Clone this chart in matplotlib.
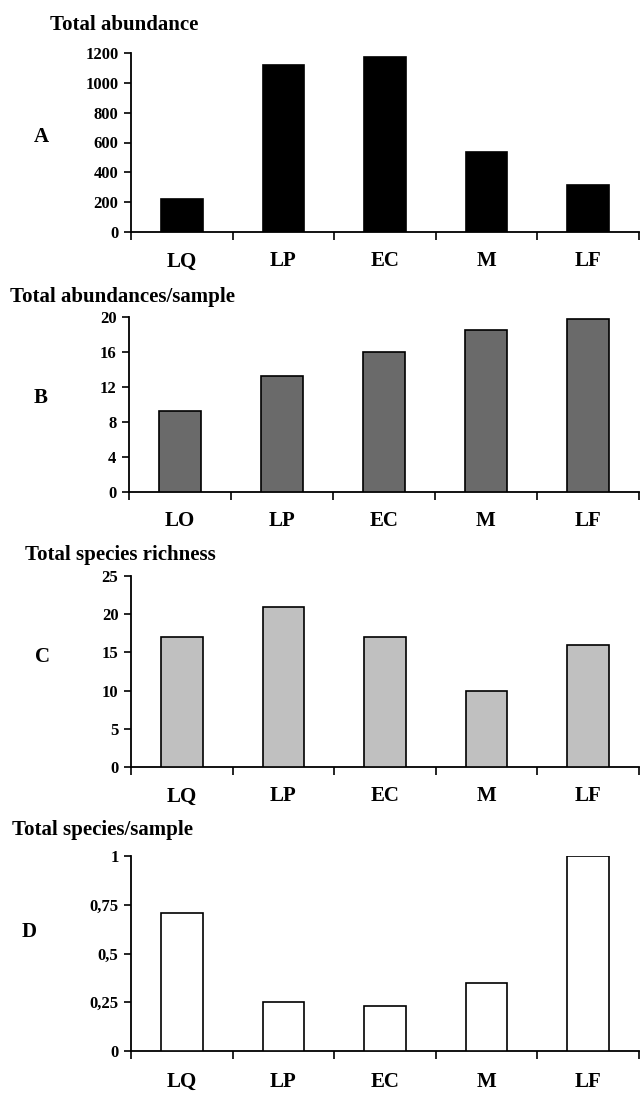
import matplotlib
matplotlib.use("Agg")
import matplotlib.pyplot as plt
import numpy as np

plt.rcParams['font.family'] = ['Liberation Serif', 'DejaVu Serif']
plt.rcParams['font.weight'] = 'bold'

cats_A = ["LQ", "LP", "EC", "M", "LF"]
cats_B = ["LO", "LP", "EC", "M", "LF"]
cats_C = ["LQ", "LP", "EC", "M", "LF"]
cats_D = ["LQ", "LP", "EC", "M", "LF"]

total_abundance = [224, 1119, 1171, 538, 316]
abundance_per_sample = [9.3, 13.2, 16.0, 18.5, 19.8]
species_richness = [17, 21, 17, 10, 16]
species_per_sample = [0.71, 0.25, 0.23, 0.35, 1.0]

yticks_A = [0, 200, 400, 600, 800, 1000, 1200]
yticks_B = [0, 4, 8, 12, 16, 20]
yticks_C = [0, 5, 10, 15, 20, 25]
yticks_D = [0, 0.25, 0.5, 0.75, 1]
ylabels_D = ["0", "0,25", "0,5", "0,75", "1"]

titles = ["Total abundance", "Total abundances/sample",
          "Total species richness", "Total species/sample"]
letters = ["A", "B", "C", "D"]

W, H = 640, 1093
fig = plt.figure(figsize=(W / 100, H / 100), dpi=100)

# pixel layout: (left, y_bottom, y_top)
panels = [
    (131, 232, 53, cats_A, total_abundance, yticks_A, None, "black", 14),
    (129, 492, 317, cats_B, abundance_per_sample, yticks_B, None, "#6a6a6a", 14),
    (131, 767, 576, cats_C, species_richness, yticks_C, None, "#c0c0c0", 14),
    (131, 1051, 856, cats_D, species_per_sample, yticks_D, ylabels_D, "white", 15),
]
title_pos = [(50, 25), (10, 297), (25, 555), (12, 830)]
letter_pos = [(41, 137), (41, 398), (43, 657), (29, 932)]

for i, (left, yb, yt, cats, vals, yt_list, ylab, color, xpad) in enumerate(panels):
    ax = fig.add_axes([left / W, 1 - yb / H, (639 - left) / W, (yb - yt) / H])
    x = np.arange(len(cats))
    ax.bar(x, vals, width=0.41, color=color, edgecolor="black", linewidth=1.2, zorder=3)
    ax.set_xlim(-0.5, len(cats) - 0.5)
    ax.set_ylim(0, yt_list[-1])
    ax.set_yticks(yt_list)
    if ylab is not None:
        ax.set_yticklabels(ylab)
    ax.set_xticks(np.arange(-0.5, len(cats), 1.0))
    ax.set_xticklabels([])
    ax.set_xticks(x, minor=True)
    ax.set_xticklabels(cats, minor=True, fontsize=15, fontweight='bold')
    ax.tick_params(axis='x', which='major', direction='out', length=6, width=1.2)
    ax.tick_params(axis='x', which='minor', length=0, pad=xpad)
    ax.tick_params(axis='y', direction='out', length=5, width=1.2, labelsize=12, pad=4)
    for lbl in ax.get_yticklabels():
        lbl.set_fontweight('bold')
    for s in ("top", "right"):
        ax.spines[s].set_visible(False)
    for s in ("left", "bottom"):
        ax.spines[s].set_linewidth(1.3)
    tx, ty = title_pos[i]
    fig.text(tx / W, 1 - ty / H, titles[i], fontsize=15, fontweight='bold',
             ha='left', va='center')
    lx, ly = letter_pos[i]
    fig.text(lx / W, 1 - ly / H, letters[i], fontsize=15, fontweight='bold',
             ha='center', va='center')

fig.savefig("out.png", dpi=100)
